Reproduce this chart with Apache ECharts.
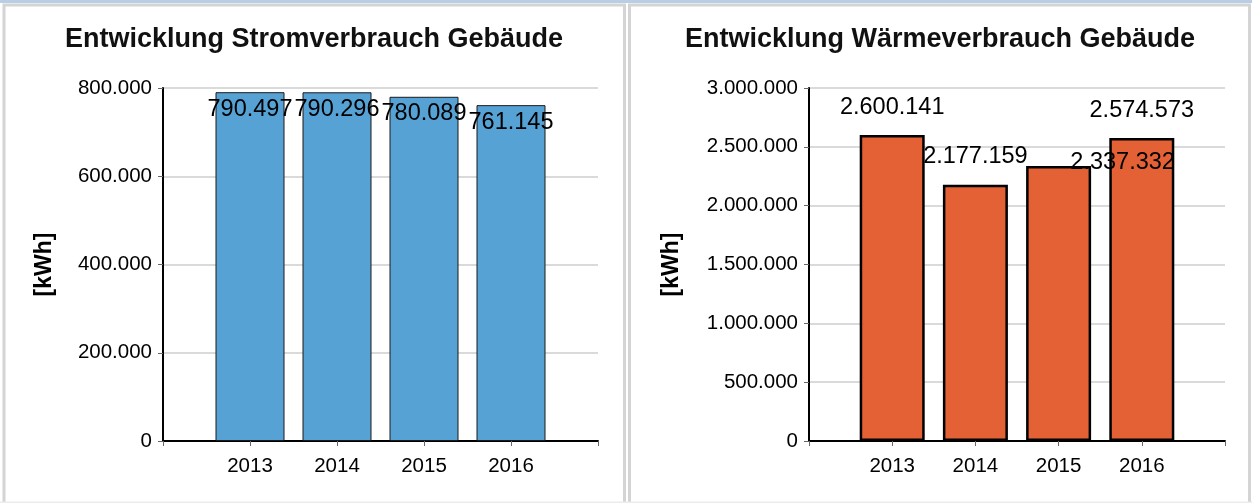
<!DOCTYPE html>
<html>
<head>
<meta charset="utf-8">
<script src="https://cdn.jsdelivr.net/npm/echarts@6/dist/echarts.min.js"></script>
<style>
html,body{margin:0;padding:0;background:#fff;}
#c{width:1252px;height:503px;}
</style>
</head>
<body>
<div id="c"></div>
<script>
// ---- data ----
const years = [2013, 2014, 2015, 2016];
const stromValues = [790497, 790296, 780089, 761145];
const waermeValues = [2600141, 2177159, 2337332, 2574573];
const titleStrom = 'Entwicklung Stromverbrauch Gebäude';
const titleWaerme = 'Entwicklung Wärmeverbrauch Gebäude';
const unitName = '[kWh]';
const stromAxisMax = 800000, stromAxisStep = 200000;
const waermeAxisMax = 3000000, waermeAxisStep = 500000;

function de(v) { return String(Math.round(v)).replace(/\B(?=(\d{3})+(?!\d))/g, '.'); }

const FONT = '"Liberation Sans", Arial, sans-serif';

function xAxis(gridIndex) {
  return {
    type: 'value', gridIndex: gridIndex, min: 2012, max: 2017, interval: 1,
    splitLine: { show: false },
    axisLine: { show: true, onZero: false, lineStyle: { color: '#000', width: 2 } },
    axisTick: { show: true, length: 5, lineStyle: { color: '#666', width: 1 } },
    axisLabel: {
      color: '#000', fontSize: 20.5, fontFamily: FONT, margin: 15,
      formatter: v => (years.indexOf(v) >= 0 ? String(v) : '')
    }
  };
}
function yAxis(gridIndex, max, step, gap) {
  return {
    type: 'value', gridIndex: gridIndex, min: 0, max: max, interval: step,
    name: unitName, nameLocation: 'middle', nameGap: gap, nameRotate: 90,
    nameTextStyle: { color: '#000', fontSize: 23, fontWeight: 'bold', fontFamily: FONT },
    axisLine: { show: true, lineStyle: { color: '#000', width: 2 } },
    axisTick: { show: true, length: 5, lineStyle: { color: '#666', width: 1 } },
    splitLine: { show: true, lineStyle: { color: '#dadada', width: 2 } },
    axisLabel: { color: '#000', fontSize: 20.5, fontFamily: FONT, margin: 11, formatter: v => de(v) }
  };
}

const stromData = years.map((y, i) => [y, stromValues[i]]);
const waermeData = years.map((y, i) => {
  const item = { value: [y, waermeValues[i]] };
  if (y === 2015) item.label = { offset: [64, 25] };
  return item;
});

const chart = echarts.init(document.getElementById('c'), null, { renderer: 'canvas' });
chart.setOption({
  backgroundColor: '#fff',
  animation: false,
  graphic: [
    { type: 'rect', shape: { x: 0, y: 0, width: 1252, height: 3 }, style: { fill: '#b9cde5' }, z: -10 },
    { type: 'rect', shape: { x: 4, y: 5, width: 620.5, height: 510 }, style: { fill: 'none', stroke: '#d4d4d4', lineWidth: 3 }, z: -10 },
    { type: 'rect', shape: { x: 629.5, y: 5, width: 620, height: 510 }, style: { fill: 'none', stroke: '#d4d4d4', lineWidth: 3 }, z: -10 },
    { type: 'rect', shape: { x: 0, y: 501.5, width: 1252, height: 1.5 }, style: { fill: '#ececec' }, z: -10 }
  ],
  title: [
    { text: titleStrom, left: 309, top: 21, textAlign: 'center',
      textStyle: { color: '#111', fontSize: 27, fontWeight: 'bold', fontFamily: FONT } },
    { text: titleWaerme, left: 935, top: 21, textAlign: 'center',
      textStyle: { color: '#111', fontSize: 27, fontWeight: 'bold', fontFamily: FONT } }
  ],
  grid: [
    { left: 163, right: 654, top: 88, bottom: 62 },
    { left: 809, right: 27, top: 88, bottom: 62 }
  ],
  xAxis: [xAxis(0), xAxis(1)],
  yAxis: [yAxis(0, stromAxisMax, stromAxisStep, 107), yAxis(1, waermeAxisMax, waermeAxisStep, 126)],
  series: [
    {
      type: 'bar', xAxisIndex: 0, yAxisIndex: 0, data: stromData, barWidth: 69,
      itemStyle: { color: '#57a2d5', borderColor: '#1a1a1a', borderWidth: 1 },
      label: { show: true, position: 'insideTop', distance: 5, color: '#000', fontSize: 23.5, fontFamily: FONT,
               formatter: p => de(p.value[1]) }
    },
    {
      type: 'bar', xAxisIndex: 1, yAxisIndex: 1, data: waermeData, barWidth: 65,
      itemStyle: { color: '#e46136', borderColor: '#000', borderWidth: 2.5 },
      label: { show: true, position: 'top', distance: 16, color: '#000', fontSize: 23.5, fontFamily: FONT,
               formatter: p => de(p.value[1]) }
    }
  ]
});
</script>
</body>
</html>
